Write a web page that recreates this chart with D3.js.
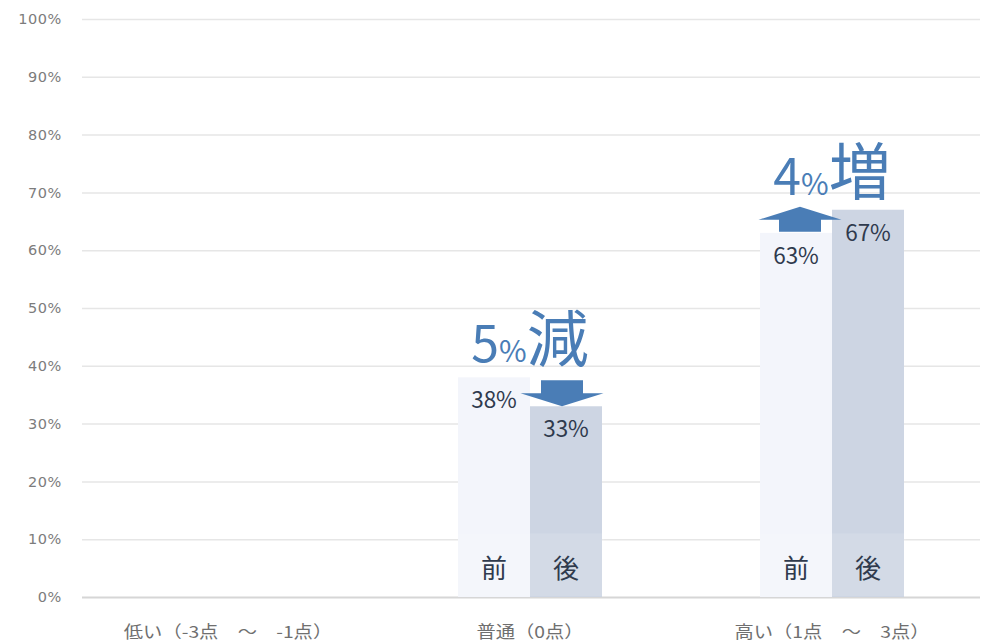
<!DOCTYPE html>
<html lang="ja">
<head>
<meta charset="utf-8">
<script src="https://cdn.jsdelivr.net/npm/d3@7"></script>
<style>
  html, body { margin: 0; padding: 0; background: #ffffff; }
  svg { display: block; }
</style>
</head>
<body>
<svg id="chart" width="982" height="643"></svg>
<script>
// Score groups and the share of respondents before / after
const categories = ["低い（-3点　～　-1点）", "普通（0点）", "高い（1点　～　3点）"];
const phases = ["前", "後"];
const beforeValues = [0, 38, 63];
const afterValues = [0, 33, 67];
const yTicks = [0, 10, 20, 30, 40, 50, 60, 70, 80, 90, 100];

const rows = categories.map((c, i) => ({ category: c, before: beforeValues[i], after: afterValues[i] }));

const svg = d3.select("#chart");
const plot = { left: 77, right: 983, top: 19, bottom: 597 };
const gridLeft = 82, gridRight = 980;

const x = d3.scaleBand().domain(categories).range([plot.left, plot.right]).padding(0);
const xSub = d3.scaleBand().domain(phases).range([-72, 72]).padding(0);
const y = d3.scaleLinear().domain([0, 100]).range([plot.bottom, plot.top]);

const cx = c => x(c) + x.bandwidth() / 2;

const blue = "#4a7db6";
const ink = "#2f3a4d";
const cjk = "'Noto Sans CJK JP', 'Noto Sans', sans-serif";

// Horizontal gridlines
const grid = svg.append("g")
  .attr("transform", `translate(${gridLeft},0)`)
  .call(d3.axisLeft(y).tickValues(yTicks).tickSize(-(gridRight - gridLeft)).tickFormat(""));
grid.select(".domain").remove();
grid.selectAll(".tick line")
  .attr("stroke", d => d === 0 ? "#d6d6d6" : "#e6e6e6")
  .attr("stroke-width", d => d === 0 ? 2 : 1.5);

// Y axis labels
const yAxis = svg.append("g")
  .attr("transform", "translate(62,0)")
  .call(d3.axisLeft(y).tickValues(yTicks).tickSize(0).tickPadding(0).tickFormat(d => d + "%"));
yAxis.select(".domain").remove();
yAxis.selectAll("text")
  .attr("fill", "#7c7c7c")
  .attr("font-family", "'DejaVu Sans', sans-serif")
  .attr("font-size", 14.5)
  .attr("letter-spacing", 0.6);

// X axis labels, drawn slightly widened
const xAxis = svg.append("g")
  .attr("transform", `translate(0,${plot.bottom})`)
  .call(d3.axisBottom(x).tickSize(0));
xAxis.select(".domain").remove();
xAxis.selectAll("text")
  .attr("fill", "#6f6f6f")
  .attr("font-family", cjk)
  .attr("font-size", 16.5)
  .attr("dy", 0)
  .attr("dominant-baseline", "alphabetic")
  .attr("y", 0)
  .attr("transform", "translate(0,41) scale(1.17,1)");

// Bars
const barData = rows.flatMap(r => [
  { category: r.category, phase: "前", value: r.before },
  { category: r.category, phase: "後", value: r.after }
]);
const barFill = { "前": "#f3f5fb", "後": "#cdd5e3" };

svg.append("g").selectAll("rect")
  .data(barData.filter(d => d.value > 0))
  .join("rect")
  .attr("x", d => cx(d.category) + xSub(d.phase))
  .attr("y", d => y(d.value))
  .attr("width", xSub.bandwidth())
  .attr("height", d => y(0) - y(d.value))
  .attr("fill", d => barFill[d.phase]);

// Light band behind the 前 / 後 captions
const shown = rows.filter(r => r.before > 0 || r.after > 0);
svg.append("g").selectAll("rect")
  .data(shown)
  .join("rect")
  .attr("x", d => cx(d.category) - 72)
  .attr("y", y(11))
  .attr("width", 146)
  .attr("height", y(0) - y(11) - 1)
  .attr("fill", "#ffffff")
  .attr("opacity", 0.12);

// Value labels inside the top of each bar
svg.append("g").selectAll("text")
  .data(barData.filter(d => d.value > 0))
  .join("text")
  .attr("x", d => cx(d.category) + xSub(d.phase) + xSub.bandwidth() / 2)
  .attr("y", d => y(d.value) + 31)
  .attr("text-anchor", "middle")
  .attr("font-family", cjk)
  .attr("font-size", 22.5)
  .attr("fill", ink)
  .text(d => d.value + "%");

// 前 / 後 captions at the base of the bars
svg.append("g").selectAll("text")
  .data(barData.filter(d => d.value > 0))
  .join("text")
  .attr("x", d => cx(d.category) + xSub(d.phase) + xSub.bandwidth() / 2)
  .attr("y", 578)
  .attr("text-anchor", "middle")
  .attr("font-family", cjk)
  .attr("font-size", 26)
  .attr("fill", ink)
  .text(d => d.phase);

// Arrows running from the before value to the after value
const shaftW = 42, headW = 83, headH = 13;
svg.append("g").selectAll("path")
  .data(shown)
  .join("path")
  .attr("fill", blue)
  .attr("d", d => {
    const dir = d.after < d.before ? 1 : -1;      // 1 = pointing down
    const ax = cx(d.category) + (dir === 1 ? 32 : -32);
    const y0 = y(d.before) + (dir === 1 ? 3 : -1);
    const tip = y(d.after) + (dir === 1 ? 0 : -3);
    const base = tip - dir * headH;
    return `M${ax - shaftW / 2},${y0} L${ax + shaftW / 2},${y0} L${ax + shaftW / 2},${base} ` +
           `L${ax + headW / 2},${base} L${ax},${tip} L${ax - headW / 2},${base} L${ax - shaftW / 2},${base} Z`;
  });

// Change annotations: "5%減" / "4%増"
const notes = svg.append("g").selectAll("text")
  .data(shown)
  .join("text")
  .attr("x", d => cx(d.category))
  .attr("y", d => y(Math.max(d.before, d.after)) - 15)
  .attr("text-anchor", "middle")
  .attr("font-family", cjk)
  .attr("fill", blue);
notes.append("tspan").attr("font-size", 50).text(d => Math.abs(d.after - d.before));
notes.append("tspan").attr("font-size", 30).text("%");
notes.append("tspan").attr("font-size", 62).text(d => d.after < d.before ? "減" : "増");
</script>
</body>
</html>
